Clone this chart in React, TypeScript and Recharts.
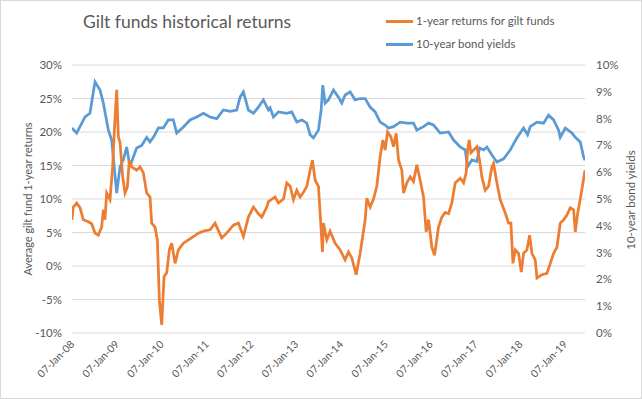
import { CartesianGrid, Line, LineChart, XAxis, YAxis } from 'recharts';

// 1-year returns for gilt funds (%), left axis
const returnYears = [
  2008.016, 2008.045, 2008.12, 2008.194, 2008.269, 2008.38, 2008.455, 2008.529, 2008.603, 2008.678,
  2008.715, 2008.752, 2008.789, 2008.864, 2008.923, 2008.961, 2009.013, 2009.05, 2009.087, 2009.147,
  2009.199, 2009.251, 2009.295, 2009.347, 2009.459, 2009.533, 2009.607, 2009.682, 2009.756, 2009.794,
  2009.868, 2009.92, 2009.965, 2010.017, 2010.069, 2010.129, 2010.188, 2010.24, 2010.315, 2010.389,
  2010.501, 2010.612, 2010.724, 2010.835, 2010.947, 2011.096, 2011.207, 2011.356, 2011.468, 2011.617,
  2011.728, 2011.84, 2011.951, 2012.063, 2012.175, 2012.249, 2012.361, 2012.398, 2012.547, 2012.621,
  2012.733, 2012.807, 2012.882, 2012.956, 2013.03, 2013.105, 2013.179, 2013.254, 2013.328, 2013.38,
  2013.44, 2013.514, 2013.551, 2013.603, 2013.626, 2013.7, 2013.774, 2013.886, 2013.998, 2014.109,
  2014.184, 2014.258, 2014.355, 2014.444, 2014.556, 2014.593, 2014.667, 2014.742, 2014.816, 2014.89,
  2014.95, 2015.002, 2015.054, 2015.128, 2015.188, 2015.248, 2015.3, 2015.374, 2015.411, 2015.486,
  2015.56, 2015.634, 2015.709, 2015.783, 2015.858, 2015.917, 2015.969, 2016.044, 2016.103, 2016.192,
  2016.267, 2016.341, 2016.416, 2016.49, 2016.564, 2016.676, 2016.751, 2016.81, 2016.84, 2016.877,
  2016.914, 2016.974, 2017.048, 2017.108, 2017.16, 2017.234, 2017.309, 2017.383, 2017.42, 2017.495,
  2017.569, 2017.681, 2017.755, 2017.807, 2017.852, 2017.904, 2017.978, 2018.038, 2018.09, 2018.164,
  2018.224, 2018.276, 2018.35, 2018.388, 2018.499, 2018.611, 2018.685, 2018.76, 2018.834, 2018.908,
  2018.983, 2019.057, 2019.132, 2019.206, 2019.243, 2019.295, 2019.355, 2019.414, 2019.46,
];
const giltReturns = [
  6.9, 8.8, 9.4, 8.7, 6.9, 6.6, 6.3, 4.9, 4.6, 5.8,
  8.4, 6.9, 10.9, 9.9, 14.8, 20.3, 26.3, 19.3, 18.4, 13.3,
  10.9, 11.8, 15.8, 14.8, 14.3, 14.8, 13.9, 10.9, 10.3, 6.4,
  5.8, 3.9, -5.1, -8.8, -1.6, -1.0, 2.4, 3.4, 0.4, 2.4,
  3.4, 3.9, 4.4, 4.9, 5.2, 5.4, 6.4, 4.2, 4.9, 6.1,
  6.4, 4.4, 7.3, 8.8, 7.8, 7.3, 8.8, 9.6, 10.3, 9.4,
  10.0, 12.4, 11.9, 9.9, 11.3, 10.3, 11.0, 11.9, 14.3, 15.8,
  12.8, 11.9, 7.9, 2.1, 6.4, 3.9, 5.2, 3.4, 2.4, 0.9,
  2.1, 1.2, -1.3, 1.9, 6.9, 10.1, 8.8, 10.0, 11.9, 16.3,
  18.8, 17.3, 20.0, 19.3, 17.8, 19.8, 15.8, 14.3, 10.9, 12.4,
  13.3, 12.6, 15.1, 12.8, 10.3, 5.1, 6.9, 2.8, 1.6, 5.8,
  7.3, 8.0, 7.8, 9.4, 12.4, 13.1, 12.4, 13.9, 17.3, 18.8,
  16.9, 17.3, 17.8, 15.8, 13.3, 11.3, 11.9, 14.8, 15.3, 12.4,
  9.9, 7.9, 6.4, 6.4, 0.4, 2.4, 1.9, -0.9, 1.9, 2.4,
  4.6, 1.9, 0.9, -1.8, -1.3, -1.1, 0.4, 1.9, 2.8, 6.4,
  6.9, 7.6, 8.7, 8.4, 5.1, 7.8, 10.0, 12.4, 14.3,
];

// 10-year bond yields (%), right axis
const yieldYears = [
  2008.016, 2008.12, 2008.306, 2008.417, 2008.529, 2008.641, 2008.715, 2008.827, 2008.901, 2009.013,
  2009.087, 2009.161, 2009.236, 2009.31, 2009.385, 2009.459, 2009.571, 2009.682, 2009.756, 2009.831,
  2009.943, 2010.054, 2010.166, 2010.277, 2010.352, 2010.501, 2010.649, 2010.798, 2010.947, 2011.096,
  2011.245, 2011.393, 2011.542, 2011.691, 2011.765, 2011.84, 2011.951, 2012.063, 2012.175, 2012.286,
  2012.398, 2012.435, 2012.51, 2012.621, 2012.807, 2012.919, 2013.03, 2013.142, 2013.254, 2013.328,
  2013.402, 2013.514, 2013.574, 2013.611, 2013.663, 2013.737, 2013.849, 2013.96, 2014.035, 2014.109,
  2014.221, 2014.332, 2014.444, 2014.556, 2014.667, 2014.779, 2014.89, 2015.002, 2015.076, 2015.188,
  2015.337, 2015.486, 2015.634, 2015.709, 2015.858, 2015.969, 2016.081, 2016.23, 2016.416, 2016.528,
  2016.676, 2016.788, 2016.84, 2016.937, 2017.048, 2017.108, 2017.197, 2017.272, 2017.383, 2017.495,
  2017.644, 2017.792, 2017.941, 2018.09, 2018.179, 2018.239, 2018.388, 2018.536, 2018.648, 2018.76,
  2018.871, 2018.908, 2019.02, 2019.169, 2019.243, 2019.355, 2019.429, 2019.46,
];
const bondYields = [
  7.65, 7.46, 8.06, 8.2, 9.37, 9.07, 8.58, 7.57, 7.2, 5.22,
  6.2, 6.46, 6.94, 6.2, 6.57, 6.9, 7.0, 7.3, 7.13, 7.3,
  7.65, 7.65, 7.95, 7.95, 7.46, 7.69, 7.95, 8.06, 8.2, 8.06,
  8.0, 8.32, 8.27, 8.32, 8.8, 9.0, 8.32, 8.2, 8.43, 8.7,
  8.32, 8.4, 8.06, 8.25, 8.2, 8.25, 7.87, 7.95, 7.83, 7.4,
  7.28, 7.57, 8.32, 9.25, 8.58, 8.7, 9.07, 8.8, 8.58, 8.88,
  9.0, 8.7, 8.75, 8.75, 8.43, 8.25, 7.87, 7.76, 7.65, 7.7,
  7.87, 7.83, 7.83, 7.57, 7.7, 7.83, 7.76, 7.46, 7.5, 7.2,
  6.94, 6.83, 6.2, 6.46, 6.4, 6.9, 6.83, 6.94, 6.64, 6.38,
  6.5, 6.83, 7.28, 7.65, 7.4, 7.7, 7.87, 7.83, 8.13, 7.95,
  7.57, 7.3, 7.65, 7.46, 7.3, 7.13, 6.57, 6.45,
];

const tickYears = [2008, 2009, 2010, 2011, 2012, 2013, 2014, 2015, 2016, 2017, 2018, 2019];
const returnTicks = [-10, -5, 0, 5, 10, 15, 20, 25, 30];
const yieldTicks = [0, 1, 2, 3, 4, 5, 6, 7, 8, 9, 10];

const FONT = 'Lato, "Open Sans", sans-serif';
const GREY = '#595959';
const ORANGE = '#ED7D31';
const BLUE = '#5B9BD5';

const jan7 = 6 / 365;

function DateTick({ x, y, payload }: any) {
  const yr = Math.round(payload.value - jan7) % 100;
  const label = `07-Jan-${String(yr).padStart(2, '0')}`;
  const ax = x + 3;
  const ay = y + 4;
  return (
    <text
      x={ax}
      y={ay}
      transform={`rotate(-45 ${ax} ${ay})`}
      textAnchor="end"
      fill={GREY}
      fontSize={10.5}
      fontFamily={FONT}
    >
      {label}
    </text>
  );
}

export default function App() {
  const returnsData = returnYears.map((t, i) => ({ t, v: giltReturns[i] }));
  const yieldsData = yieldYears.map((t, i) => ({ t, v: bondYields[i] }));
  const xTicks = tickYears.map((y) => y + jan7);

  return (
    <div
      style={{
        position: 'absolute',
        left: 0,
        top: 0,
        width: 642,
        height: 399,
        background: '#fff',
        fontFamily: FONT,
        color: GREY,
      }}
    >
      <LineChart
        width={642}
        height={399}
        margin={{ top: 65, right: 0, bottom: 0, left: 0 }}
        style={{ position: 'absolute', left: 0, top: 0 }}
      >
        <CartesianGrid yAxisId="left" vertical={false} stroke="#d9d9d9" />
        <XAxis
          dataKey="t"
          type="number"
          domain={[returnYears[0], returnYears[returnYears.length - 1]]}
          ticks={xTicks}
          tick={<DateTick />}
          tickLine={false}
          axisLine={false}
          height={66}
          interval={0}
          allowDataOverflow
        />
        <YAxis
          yAxisId="left"
          orientation="left"
          width={72}
          domain={[-10, 30]}
          ticks={returnTicks}
          tickFormatter={(v) => `${v}%`}
          tick={{ fill: GREY, fontSize: 11.5, fontFamily: FONT }}
          tickLine={false}
          axisLine={false}
          tickMargin={4}
          interval={0}
        />
        <YAxis
          yAxisId="right"
          orientation="right"
          width={57}
          domain={[0, 10]}
          ticks={yieldTicks}
          tickFormatter={(v) => `${v}%`}
          tick={{ fill: GREY, fontSize: 11.5, fontFamily: FONT, textAnchor: 'start' }}
          tickLine={false}
          axisLine={false}
          tickMargin={5}
          interval={0}
        />
        <Line
          yAxisId="right"
          data={yieldsData}
          dataKey="v"
          type="linear"
          stroke={BLUE}
          strokeWidth={2.75}
          dot={false}
          isAnimationActive={false}
        />
        <Line
          yAxisId="left"
          data={returnsData}
          dataKey="v"
          type="linear"
          stroke={ORANGE}
          strokeWidth={2.75}
          dot={false}
          isAnimationActive={false}
        />
      </LineChart>

      <div style={{ position: 'absolute', left: 83, top: 11, fontSize: 17.5, whiteSpace: 'nowrap' }}>
        Gilt funds historical returns
      </div>

      <div style={{ position: 'absolute', left: 386, top: 12, fontSize: 11.5, lineHeight: '18px' }}>
        <div style={{ display: 'flex', alignItems: 'center', gap: 3 }}>
          <span style={{ width: 27, height: 3, background: ORANGE, display: 'inline-block' }} />
          <span>1-year returns for gilt funds</span>
        </div>
        <div style={{ display: 'flex', alignItems: 'center', gap: 3, marginTop: 5 }}>
          <span style={{ width: 27, height: 3, background: BLUE, display: 'inline-block' }} />
          <span>10-year bond yields</span>
        </div>
      </div>

      <div
        style={{
          position: 'absolute',
          left: 27,
          top: 199,
          fontSize: 11,
          whiteSpace: 'nowrap',
          transform: 'translate(-50%, -50%) rotate(-90deg)',
        }}
      >
        Average gilt fund 1-year returns
      </div>
      <div
        style={{
          position: 'absolute',
          left: 630,
          top: 200,
          fontSize: 11.5,
          whiteSpace: 'nowrap',
          transform: 'translate(-50%, -50%) rotate(-90deg)',
        }}
      >
        10-year bond yields
      </div>

      <div
        style={{
          position: 'absolute',
          left: 0,
          top: 0,
          width: 642,
          height: 399,
          boxSizing: 'border-box',
          border: '1px solid #d9d9d9',
          pointerEvents: 'none',
        }}
      />
    </div>
  );
}
